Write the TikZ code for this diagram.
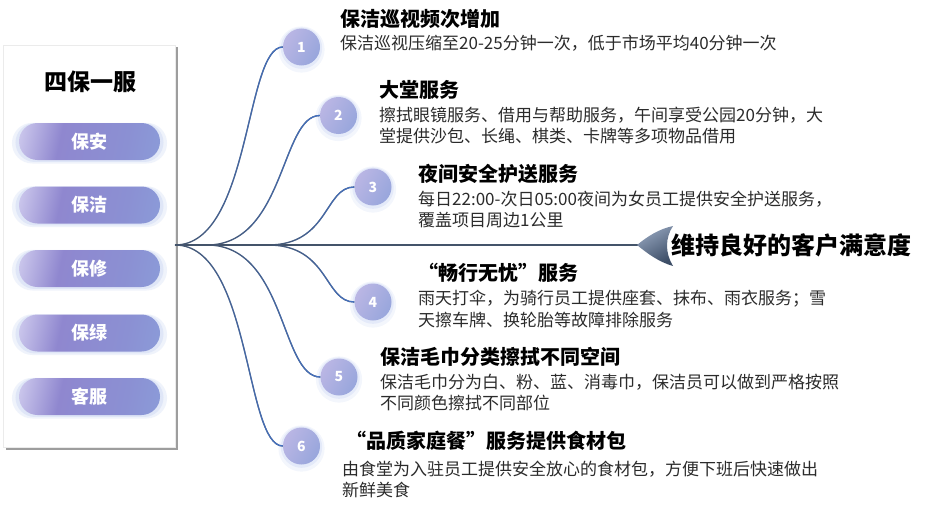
\documentclass[tikz,border=0pt]{standalone}
\usepackage{fontspec}
\setmainfont{Noto Sans CJK SC}
\usetikzlibrary{fadings,shadows}
\definecolor{slate}{HTML}{44546A}
\definecolor{cblue}{HTML}{4472C4}
\definecolor{bodyc}{HTML}{2B2B2B}
\definecolor{pillA}{HTML}{ECEAF8}
\definecolor{pillA2}{HTML}{CFCBEE}
\definecolor{pillB}{HTML}{8F87CF}
\definecolor{pillM}{HTML}{8B90D3}
\definecolor{pillC}{HTML}{8BAADF}
\definecolor{glowc}{HTML}{C3D0F2}
\definecolor{circA}{HTML}{BAB6E4}
\definecolor{circB}{HTML}{98A6DC}
\definecolor{arrA}{HTML}{93A3BC}
\definecolor{arrB}{HTML}{3C4D66}
\pgfdeclarehorizontalshading{pillsh}{100bp}{color(0bp)=(pillA); color(20bp)=(pillA2); color(38bp)=(pillB); color(65bp)=(pillM); color(100bp)=(pillC)}
\tikzfading[name=fadeinright, left color=transparent!100, right color=transparent!0]
\tikzset{
  pill/.style={rectangle, rounded corners=18.5pt, minimum width=141pt, minimum height=37pt,
    inner sep=0pt, shade, shading=pillsh, shading angle=-12,
    text=white, font=\fontsize{18}{18}\selectfont\bfseries,
    general shadow={fill=glowc, opacity=.25, shadow scale=1.1, shadow yshift=-1.5pt},
    general shadow={fill=glowc, opacity=.35, shadow scale=1.05, shadow yshift=-1pt}},
  numc/.style={circle, minimum size=37pt, inner sep=0pt, left color=circA, right color=circB, shading angle=60,
    text=white, font=\fontsize{14}{14}\selectfont\bfseries,
    general shadow={fill=glowc, opacity=.2, shadow scale=1.25, shadow yshift=-2pt},
    general shadow={fill=glowc, opacity=.3, shadow scale=1.12, shadow yshift=-1pt}},
  ttl/.style={anchor=base west, inner sep=0pt, font=\fontsize{20}{24}\selectfont\bfseries, text=black},
  bodytxt/.style={anchor=base west, inner sep=0pt, font=\fontsize{17}{21}\selectfont, text=bodyc},
  curve/.style={line width=1.3pt, slate},
  curveblue/.style={line width=1.3pt, cblue, path fading=fadeinright}
}
\begin{document}
\begin{tikzpicture}[x=1pt,y=-1pt]
\useasboundingbox (0,0) rectangle (925,511);
% left panel
\fill[white, draw=black!8, drop shadow={shadow xshift=2.5pt, shadow yshift=-2.5pt, fill=black!55, opacity=.7}] (3,45) rectangle (175,447);
\node[inner sep=0pt, font=\fontsize{23}{23}\selectfont\bfseries] (title) at (90,82) {四保一服};
\node[pill] (p1) at (89.5,141.5) {保安};
\node[pill] (p2) at (89.5,205) {保洁};
\node[pill] (p3) at (89.5,268.5) {保修};
\node[pill] (p4) at (89.5,333) {保绿};
\node[pill] (p5) at (89.5,396.5) {客服};
% hub and line
\coordinate (hub) at (175,245);
\coordinate (s2) at (207,245);
\coordinate (s3) at (268,245);
\coordinate (tip) at (638,245);
\draw[slate, line width=1.8pt] (hub) -- (tip);
% arrow head
\shade[top color=arrA, bottom color=arrB, shading angle=30]
  (637,245) .. controls (648,236) and (659,229) .. (673,226)
  .. controls (665,238) and (665,253) .. (673,266)
  .. controls (659,262) and (648,254) .. (637,245) -- cycle;
\node[anchor=west, inner sep=0pt, font=\fontsize{24}{24}\selectfont\bfseries] (goal) at (671,245) {维持良好的客户满意度};
% circles
\node[numc] (c1) at (301.5,47) {1};
\node[numc] (c2) at (338.5,115.5) {2};
\node[numc] (c3) at (373,187) {3};
\node[numc] (c4) at (373,302) {4};
\node[numc] (c5) at (339,377) {5};
\node[numc] (c6) at (301.5,446) {6};
% curves
\foreach \s/\c/\a/\b in {hub/c1/76/38, s2/c2/78/39, s3/c3/61/30, s3/c4/61/30, s2/c5/79/40, hub/c6/76/38}{
  \draw[curve] (\s) .. controls +(\a,0) and +(-\b,0) .. (\c.west);
  \draw[curveblue] (\s) .. controls +(\a,0) and +(-\b,0) .. (\c.west);
}
% texts
\node[ttl] (t1) at (340,26.5) {保洁巡视频次增加};
\node[bodytxt] (b1) at (340,49.5) {保洁巡视压缩至20-25分钟一次，低于市场平均40分钟一次};
\node[ttl] (t2) at (379,97.5) {大堂服务};
\node[bodytxt] (b2a) at (379,121.5) {擦拭眼镜服务、借用与帮助服务，午间享受公园20分钟，大};
\node[bodytxt] (b2b) at (379,142) {堂提供沙包、长绳、棋类、卡牌等多项物品借用};
\node[ttl] (t3) at (418,181.5) {夜间安全护送服务};
\node[bodytxt] (b3a) at (418,205.5) {每日22:00-次日05:00夜间为女员工提供安全护送服务，};
\node[bodytxt] (b3b) at (418,226.5) {覆盖项目周边1公里};
\node[ttl] (t4) at (418,280.5) {“畅行无忧”服务};
\node[bodytxt] (b4a) at (418,304.5) {雨天打伞，为骑行员工提供座套、抹布、雨衣服务；雪};
\node[bodytxt] (b4b) at (418,326) {天擦车牌、换轮胎等故障排除服务};
\node[ttl] (t5) at (380,364.5) {保洁毛巾分类擦拭不同空间};
\node[bodytxt] (b5a) at (380,388) {保洁毛巾分为白、粉、蓝、消毒巾，保洁员可以做到严格按照};
\node[bodytxt] (b5b) at (380,409) {不同颜色擦拭不同部位};
\node[ttl] (t6) at (346,448.5) {“品质家庭餐”服务提供食材包};
\node[bodytxt] (b6a) at (342,475) {由食堂为入驻员工提供安全放心的食材包，方便下班后快速做出};
\node[bodytxt] (b6b) at (342,496) {新鲜美食};
\end{tikzpicture}
\end{document}
